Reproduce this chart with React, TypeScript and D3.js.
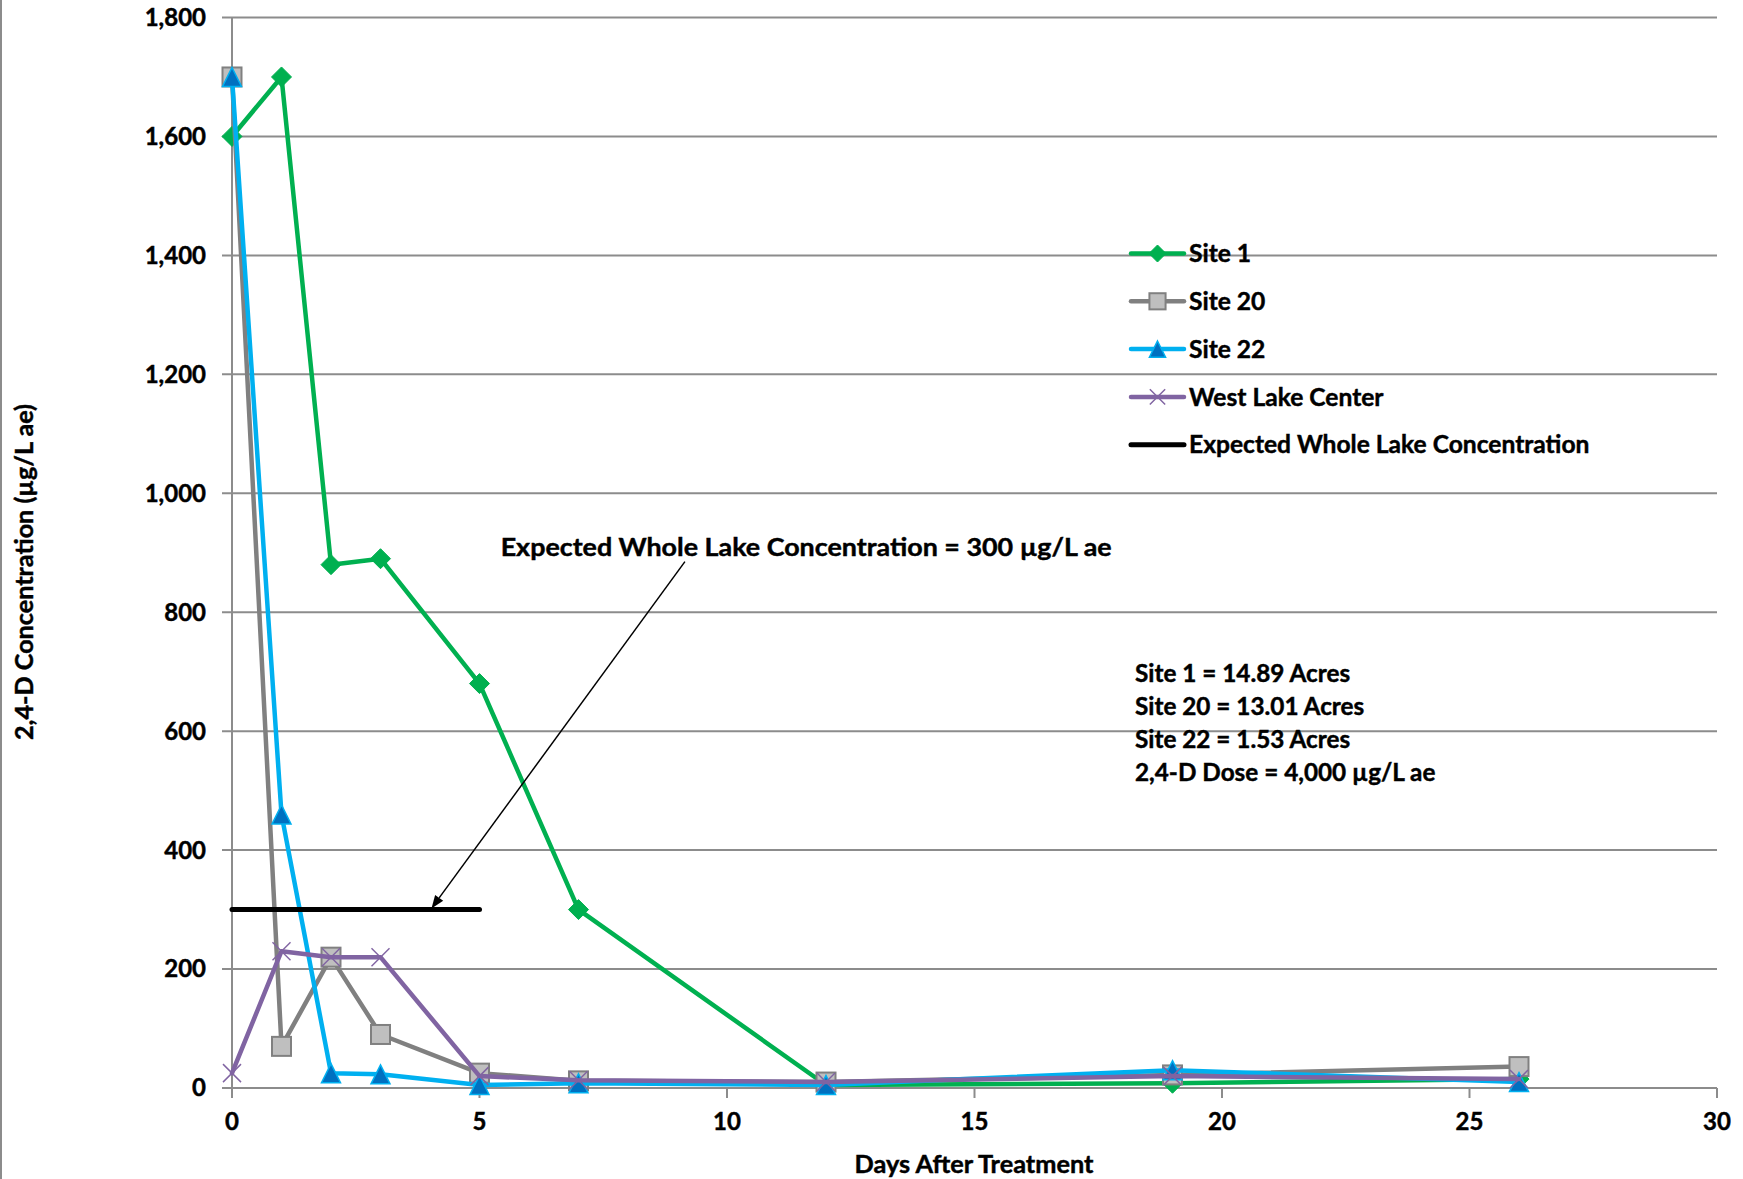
import React from 'react';
import * as d3 from 'd3';

const days = [0, 1, 2, 3, 5, 7, 12, 19, 26];
const site1 = [1600, 1700, 880, 890, 680, 300, 5, 8, 15];
const site20 = [1700, 70, 220, 90, 25, 12, 10, 22, 36];
const site22 = [1700, 460, 25, 23, 5, 8, 5, 30, 10];
const westLake = [25, 230, 220, 220, 20, 13, 10, 20, 15];
const expectedDays = [0, 5];
const expectedValues = [300, 300];
const yTicks = [0, 200, 400, 600, 800, 1000, 1200, 1400, 1600, 1800];
const xTicks = [0, 5, 10, 15, 20, 25, 30];
const legendLabels = ['Site 1', 'Site 20', 'Site 22', 'West Lake Center', 'Expected Whole Lake Concentration'];
const notes = ['Site 1 = 14.89 Acres', 'Site 20 = 13.01 Acres', 'Site 22 = 1.53 Acres', '2,4-D Dose = 4,000 µg/L ae'];
const annotationText = 'Expected Whole Lake Concentration = 300 µg/L ae';
const annotationTextPos = { day: 11.6, value: 910 };
const arrowFrom = { day: 9.15, value: 885 };
const arrowTo = { day: 4.03, value: 302 };

const W = 1743;
const H = 1179;
const FONT = 'Lato, "Open Sans", sans-serif';

type Kind = 'diamond' | 'square' | 'triangle' | 'x' | 'none';

function Marker({ kind, cx, cy, k = 1 }: { kind: Kind; cx: number; cy: number; k?: number }) {
  if (kind === 'diamond') {
    const r = 10 * k;
    return <path d={`M${cx},${cy - r}L${cx + r},${cy}L${cx},${cy + r}L${cx - r},${cy}Z`} fill="#00B050" stroke="#00B050" strokeWidth={1} />;
  }
  if (kind === 'square') {
    const s = 9.5 * k;
    return <rect x={cx - s} y={cy - s} width={2 * s} height={2 * s} fill="#BFBFBF" stroke="#808080" strokeWidth={2} />;
  }
  if (kind === 'triangle') {
    const h = 9.5 * k;
    return <path d={`M${cx},${cy - h}L${cx + h},${cy + h}L${cx - h},${cy + h}Z`} fill="#0070C0" stroke="#00B0F0" strokeWidth={1.5} />;
  }
  if (kind === 'x') {
    const r = 9 * k;
    return (
      <g stroke="#8064A2" strokeWidth={1.5}>
        <line x1={cx - r} y1={cy - r} x2={cx + r} y2={cy + r} />
        <line x1={cx - r} y1={cy + r} x2={cx + r} y2={cy - r} />
      </g>
    );
  }
  return null;
}

const textStyle = { fontWeight: 'bold' as const, fill: '#000', stroke: '#000', strokeWidth: 0.45 };

export default function App() {
  const x = d3.scaleLinear().domain([0, 30]).range([232, 1717]);
  const y = d3.scaleLinear().domain([0, 1800]).range([1088, 17.5]);
  const line = d3.line<[number, number]>().x((d) => x(d[0])).y((d) => y(d[1]));

  const series = [
    { name: legendLabels[0], xs: days, vals: site1, color: '#00B050', width: 4.5, kind: 'diamond' as Kind },
    { name: legendLabels[1], xs: days, vals: site20, color: '#808080', width: 4.5, kind: 'square' as Kind },
    { name: legendLabels[2], xs: days, vals: site22, color: '#00B0F0', width: 4.5, kind: 'triangle' as Kind },
    { name: legendLabels[3], xs: days, vals: westLake, color: '#8064A2', width: 4.5, kind: 'x' as Kind },
    { name: legendLabels[4], xs: expectedDays, vals: expectedValues, color: '#000000', width: 5, kind: 'none' as Kind },
  ];

  const ax0 = x(arrowFrom.day), ay0 = y(arrowFrom.value);
  const ax1 = x(arrowTo.day), ay1 = y(arrowTo.value);
  const ang = Math.atan2(ay1 - ay0, ax1 - ax0);
  const headLen = 13, headW = 5;
  const bx = ax1 - headLen * Math.cos(ang), by = ay1 - headLen * Math.sin(ang);
  const px = -Math.sin(ang) * headW, py = Math.cos(ang) * headW;

  return (
    <svg width={W} height={H} style={{ position: 'absolute', left: 0, top: 0, background: '#fff' }} fontFamily={FONT}>
      <rect x={0} y={0} width={W} height={H} fill="#fff" />
      <line x1={1} y1={0} x2={1} y2={H} stroke="#8c8c8c" strokeWidth={2} />
      {yTicks.map((t) => (
        <line key={'g' + t} x1={x(0) - 10} x2={x(30)} y1={y(t)} y2={y(t)} stroke="#8C8C8C" strokeWidth={2} />
      ))}
      <line x1={x(0)} x2={x(0)} y1={y(0)} y2={y(1800)} stroke="#8C8C8C" strokeWidth={2} />
      {xTicks.map((t) => (
        <line key={'xt' + t} x1={x(t)} x2={x(t)} y1={y(0)} y2={y(0) + 10} stroke="#8C8C8C" strokeWidth={2} />
      ))}
      {yTicks.map((t) => (
        <text key={'yl' + t} x={206} y={y(t)} dy="0.35em" textAnchor="end" fontSize={24} {...textStyle}>
          {d3.format(',')(t)}
        </text>
      ))}
      {xTicks.map((t) => (
        <text key={'xl' + t} x={x(t)} y={1122} dy="0.35em" textAnchor="middle" fontSize={24} {...textStyle}>
          {t}
        </text>
      ))}
      <text x={974} y={1164} dy="0.35em" textAnchor="middle" fontSize={25.3} {...textStyle}>
        Days After Treatment
      </text>
      <text transform={`translate(24.5,572) rotate(-90)`} dy="0.35em" textAnchor="middle" fontSize={25.2} {...textStyle}>
        2,4-D Concentration (µg/L ae)
      </text>

      {series.map((s) => (
        <g key={s.name}>
          <path
            d={line(s.xs.map((d, i) => [d, s.vals[i]] as [number, number])) || ''}
            fill="none"
            stroke={s.color}
            strokeWidth={s.width}
            strokeLinejoin="round"
            strokeLinecap="round"
          />
          {s.xs.map((d, i) => (
            <Marker key={i} kind={s.kind} cx={x(d)} cy={y(s.vals[i])} />
          ))}
        </g>
      ))}

      {series.map((s, i) => {
        const ly = 253.5 + i * 47.8;
        return (
          <g key={'lg' + i}>
            <line x1={1131} x2={1184} y1={ly} y2={ly} stroke={s.color} strokeWidth={s.width} strokeLinecap="round" />
            <Marker kind={s.kind} cx={1157.5} cy={ly} k={0.85} />
            <text x={1189} y={ly} dy="0.35em" fontSize={24.6} {...textStyle}>
              {s.name}
            </text>
          </g>
        );
      })}

      {notes.map((n, i) => (
        <text key={'n' + i} x={1135} y={673.5 + i * 33} dy="0.35em" fontSize={24.3} {...textStyle}>
          {n}
        </text>
      ))}

      <line x1={ax0} y1={ay0} x2={bx} y2={by} stroke="#000" strokeWidth={1.5} />
      <path d={`M${ax1},${ay1}L${bx + px},${by + py}L${bx - px},${by - py}Z`} fill="#000" />
      <text x={x(annotationTextPos.day)} y={y(annotationTextPos.value)} dy="0.35em" textAnchor="middle" fontSize={25.5} {...textStyle} textLength={611} lengthAdjust="spacingAndGlyphs">
        {annotationText}
      </text>
    </svg>
  );
}
